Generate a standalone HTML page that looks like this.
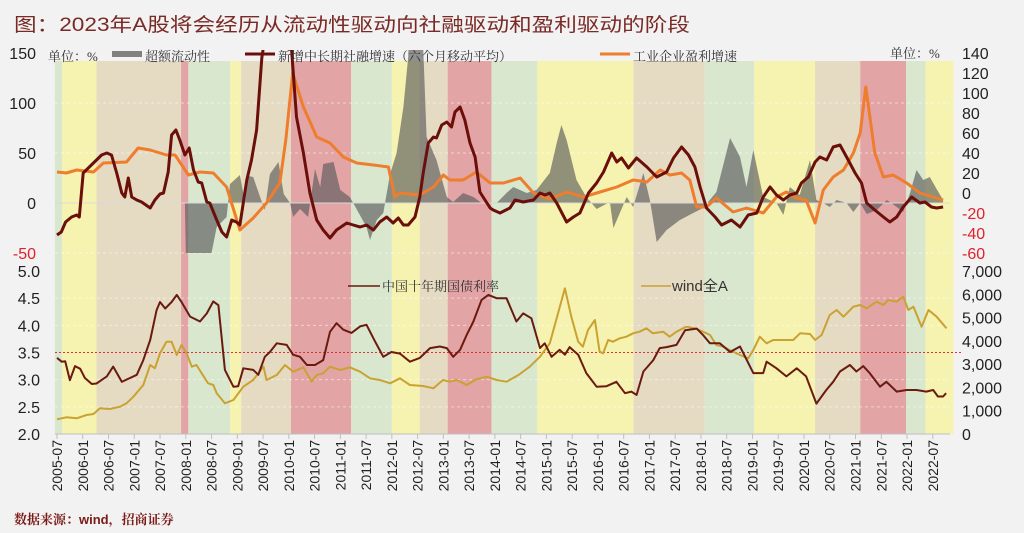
<!DOCTYPE html>
<html><head><meta charset="utf-8">
<style>
html,body{margin:0;padding:0;background:#f2f2f2;}
svg{display:block;font-family:"Liberation Sans","Noto Sans CJK SC",sans-serif;}
</style></head>
<body>
<svg id="chart" width="1024" height="533" viewBox="0 0 1024 533">
<rect width="1024" height="533" fill="#f2f2f2"/>
<text x="14" y="31" font-size="19" fill="#7a2a26" textLength="676" lengthAdjust="spacingAndGlyphs">图：2023年A股将会经历从流动性驱动向社融驱动和盈利驱动的阶段</text>
<g id="bands"></g><g id="grid"></g>
<g id="plot"></g>
<g id="axes"></g>
<g id="legend" font-family="'Liberation Serif','Noto Serif CJK SC',serif" font-size="13" fill="#333">
<text x="48" y="61">单位：%</text>
<rect x="112" y="51" width="30" height="6" fill="#808080"/>
<text x="145" y="61">超额流动性</text>
<line x1="245" y1="54" x2="275" y2="54" stroke="#6b0f0a" stroke-width="3"/>
<text x="278" y="61">新增中长期社融增速（六个月移动平均）</text>
<line x1="600" y1="54" x2="630" y2="54" stroke="#ee7d2e" stroke-width="3"/>
<text x="633" y="61">工业企业盈利增速</text>
<text x="890" y="58">单位：%</text>
<line x1="348" y1="286" x2="380" y2="286" stroke="#6b1a10" stroke-width="1.5"/>
<text x="382" y="291">中国十年期国债利率</text>
<line x1="641" y1="286" x2="671" y2="286" stroke="#c9a232" stroke-width="1.5"/>
<text x="672" y="291" font-family="'Liberation Sans','Noto Sans CJK SC',sans-serif" font-size="15">wind全A</text>
</g>
<text x="14" y="524" font-size="13" font-weight="bold" fill="#7a1a14" font-family="'Liberation Sans','Noto Serif CJK SC',serif">数据来源：wind，招商证券</text>
</svg>
<script>
// ---- data (month index: 0 = 2005-07) ----
const tickLabels=[];for(let y=2005;y<=2022;y++){if(y>2005)tickLabels.push(y+'-01');tickLabels.push(y+'-07');}
const bandStarts=[-0.5,1.2,9.2,28.9,30.6,40.3,42.9,54.5,68.5,78,84.5,91,101.2,111.9,134.3,150.9,162.4,176.6,187.1,197.8,202.3,208.8];
const bandTypes=['g','y','b','r','g','y','b','r','g','y','b','r','g','y','b','g','y','b','r','g','y'];
const creditM=[0,1,2,3.4,4.6,5.2,6.1,7.3,9.2,10.4,11.6,12.7,13.9,15.1,15.8,16.6,17.4,18.6,19.7,21.7,22.8,24,24.8,25.9,26.7,27.7,28.6,29.8,30.8,31.8,32.9,33.7,34.9,35.6,37.2,38.4,39.5,40.7,41.8,42.6,44.2,45.3,46.5,47.7,48.6,51,54,54.7,55.8,57.4,58.9,60.5,62,63.6,65.1,67.5,69,70.6,72.1,73.7,75.2,76.8,78.3,79.5,80.7,81.8,83.4,84.5,85.3,86.5,87.7,88.4,89.6,90.8,91.9,92.7,93.9,95,96.2,97.4,98.5,99.7,100.9,101.6,103.2,105.5,106.7,108.6,111,112.5,113.7,114.8,116.4,118.7,120.3,121.8,123.8,125.7,127.3,129.2,130.4,131.5,133.1,135,137.4,139.7,142,143.6,145.5,147.1,148.6,149.8,151.3,153.3,154.8,157.1,159.1,161,163,164.5,166.1,167.6,169.2,170.7,172.3,173.4,175,176.6,177.7,179.3,180.8,182.4,184.3,185.9,187.4,188.6,190.5,192.5,194,195.6,197.1,199.1,201,202.2,203.7,204.9,206.4];
const creditV=[-32,-29,-19,-14,-12,-14,30,35,43,48,50,48,30,10,6,25,6,3,1,-5,3,9,10,31,68,73,63,48,55,33,21,20,1,0,-17,-29,-34,-17,-19,-22,23,43,73,145,170,200,200,150,86,50,10,-17,-27,-35,-27,-20,-22,-24,-22,-27,-19,-14,-20,-15,-22,-22,-14,6,30,60,66,65,78,81,76,91,96,83,60,46,11,3,-5,-7,-10,-5,3,1,3,10,8,10,0,-19,-14,-10,10,20,31,50,41,45,35,45,36,26,31,45,56,48,36,16,-5,-14,-22,-17,-24,-12,-10,6,16,8,3,8,10,20,26,41,46,43,56,58,43,30,20,0,-7,-14,-19,-14,-4,6,0,1,-4,-5,-4];
const profitM=[0,2.2,4.6,8.5,10.8,16.2,18.9,21.7,25.5,27.5,30.6,33.3,36.4,39.5,42.6,45.7,48.8,51.9,53.3,54.9,57.4,60.5,63.6,66.7,69.8,73.7,77.2,78.7,79.9,84.5,87.7,90,91.5,94.6,97.7,100.9,104,107.9,111,114.8,118.7,122.6,126.5,130.4,134.2,137.4,140.5,142.8,145.5,147.4,149,151.3,153.6,157.5,160.6,164.5,167.6,169.9,172.3,174.5,176.6,178.5,180.8,183.2,185.5,187.1,188.4,190.5,192.5,194.8,197.9,201,204.1,206.4];
const profitV=[31,30,33,31,40,41,55,53,48,48,28,31,30,16,-27,-15,0,20,63,130,96,66,60,46,40,38,36,6,10,8,16,28,23,23,31,20,20,25,10,4,11,6,11,16,23,21,33,28,30,23,-4,-4,5,-9,-5,-10,6,11,5,3,-20,13,26,33,50,70,116,50,26,28,20,10,6,3];
const liqM=[29.8,30,36,37.2,39.5,40.3,42.6,43.8,44.6,45.7,47.3,48.4,49.6,51.6,52.8,54.3,55,56.6,58.5,60.1,61.3,62,64.4,66,68.2,69,72.1,72.9,74.5,76,77.6,79.1,80.7,81.8,82.2,84.9,86.1,88.4,90.8,92.3,94.6,97,98.9,102.4,104.7,106.3,109.4,111.7,114.8,116.4,117.5,118.7,121,123.3,125.7,128.8,129.6,132.7,134.2,136.6,138.1,139.7,142,145.1,148.2,150.5,153.6,156.8,159.1,160.6,162.2,164.5,167.6,169.2,170.7,173,175.4,176.9,178.5,180,181.6,183.9,185.5,187.1,188.6,191,193.3,195.6,197.1,198.7,200.2,201.8,203.3,204.9,206.4];
const liqV=[0,-50,-50,-24,-14,19,28,0,27,26,6,-7,29,41,9,0,-14,-6,-14,34,16,39,41,13,6,0,-24,-37,-17,-10,29,50,96,146,200,200,66,43,6,1,10,6,0,0,10,16,10,13,30,60,78,63,23,6,-6,1,-25,6,-4,30,3,-39,-27,-17,-10,-5,11,65,46,16,53,6,0,-12,16,8,43,3,0,-4,3,0,-9,0,-11,-7,3,-4,-9,10,33,23,26,14,3];
const bondM=[0,1.1,1.9,3,4.2,5.4,6.5,8.1,9.2,11.6,13.1,15.1,17,18.6,20.1,21.7,23.2,24,25.2,26.7,27.9,29,31,33.3,34.9,36.4,37.6,39.1,41.1,42.2,43.4,45.7,46.9,48.4,49.6,51.2,53.5,55,56.6,58.2,60.1,62,63.6,65.1,66.7,68.6,70.6,72.1,74.1,76,77.9,79.9,82.2,84.5,86.9,89.2,90.8,92.3,93.9,95.4,97,98.9,100.5,102.4,104.7,107,108.6,110.5,112.5,113.6,115.2,117.1,118.3,119.4,121.4,123.3,125.7,128,130.3,132.3,133.8,135,136.6,138.9,140.4,142,144.3,146.3,149,150.5,152.1,154.4,156.8,159.1,162.2,164.5,165.3,167.6,169.9,172.3,174.5,176.9,179.2,180.8,182.4,184.7,186.2,187.8,189.3,191.7,193.2,195.6,197.9,200.2,202.5,204.1,205.2,206.4,207.1];
const bondV=[3.40,3.33,3.34,2.99,3.25,3.20,3.03,2.92,2.93,3.06,3.24,2.96,3.03,3.09,3.36,3.73,4.28,4.43,4.31,4.43,4.56,4.43,4.16,4.07,4.22,4.44,4.37,3.18,2.87,2.88,3.21,3.18,3.09,3.42,3.51,3.67,3.64,3.46,3.42,3.27,3.27,3.36,3.88,4.04,3.92,3.86,3.98,4.01,3.70,3.42,3.51,3.48,3.33,3.40,3.58,3.61,3.58,3.42,3.55,3.82,4.07,4.47,4.56,4.50,4.50,4.07,4.22,4.13,3.58,3.67,3.42,3.55,3.46,3.60,3.46,3.12,2.87,2.88,2.96,2.75,2.78,2.72,3.15,3.36,3.58,3.60,3.64,3.91,3.94,3.82,3.67,3.67,3.51,3.61,3.12,3.12,3.33,3.21,3.06,3.21,3.06,2.56,2.81,2.96,3.15,3.27,3.15,3.25,3.12,2.87,2.96,2.78,2.81,2.81,2.78,2.81,2.69,2.69,2.75];
const windM=[0,2.2,4.6,6.9,8.5,10,12.3,14.7,16.2,17.8,20.1,21.7,22.8,24,25.5,26.7,27.9,29,30.2,31.4,32.5,33.7,35.2,36.4,37.2,39.1,41.1,43.4,45.7,48.1,48.8,51.2,53.1,55,57.4,59.3,60.5,62,63.6,66,68.2,70.6,72.9,75.2,77.6,79.9,82.2,85.3,87.7,89.9,91.5,93.1,95.4,97.7,100.1,102.4,104.7,107.5,110.1,112.5,114.8,116.7,118.3,119.8,121.4,122.5,123.7,125.3,126.4,127.2,128.4,129.5,131.1,132.6,134.2,135.7,137.3,138.8,141.2,142.7,144.3,146.6,148.6,150.5,152.1,153.6,155.2,156.7,159.1,161,162.2,163.7,165.3,166.8,169.2,171.5,173.1,175.4,176.6,178.1,180,181.6,183.2,185.5,187.1,188.6,190.9,192.5,193.6,195.6,197.1,198.3,199.5,201.4,203,204.9,207.2];
const windV=[631,717,674,816,859,1102,1074,1174,1317,1603,2104,2963,2820,3464,3965,3965,3392,3822,3464,2892,2963,2605,2176,2104,1746,1317,1460,2033,2319,2892,2319,2533,2963,2677,2863,2248,2533,2605,2892,2748,2863,2677,2390,2319,2176,2390,2104,2061,1961,2319,2248,2319,2104,2347,2462,2319,2248,2533,2892,3320,3893,5181,6255,5038,3965,3750,4466,4896,3535,3464,4037,3965,4108,4180,4323,4395,4538,4323,4395,4180,4395,4610,4538,4395,4251,3822,3750,3607,3392,3249,3607,4180,3893,4037,4037,4037,4323,4295,4037,4251,5110,5325,5038,5467,5539,5396,5682,5539,5754,5682,5897,5325,5467,4610,5325,5038,4538];
const leftTopTicks=[150,100,50,0,-50];
const rightTopTicks=[140,120,100,80,60,40,20,0,-20,-40,-60];
const leftBotTicks=[5.0,4.5,4.0,3.5,3.0,2.5,2.0];
const rightBotTicks=[7000,6000,5000,4000,3000,2000,1000,0];
const bondRef=3.5;

// ---- scales ----
const X0=57,MPX=4.293;
const xS=m=>X0+m*MPX;
const yTopL=v=>203-v;          // left top axis
const yTopR=v=>193-v;          // right top axis
const yBotL=v=>271+(5-v)*54.33;
const yBotR=v=>434-v*163/7000;
const NS='http://www.w3.org/2000/svg';
function mk(tag,attrs,parent){const e=document.createElementNS(NS,tag);for(const k in attrs)e.setAttribute(k,attrs[k]);parent.appendChild(e);return e;}
const svg=document.getElementById('chart');
const defs=mk('defs',{},svg);
const cp=mk('clipPath',{id:'topclip'},defs);mk('rect',{x:50,y:50,width:910,height:215},cp);
const bandG=document.getElementById('bands'),gridG=document.getElementById('grid'),plotG=document.getElementById('plot'),axG=document.getElementById('axes');
const bandColors={g:'#d8e7cd',y:'#f6f3b0',b:'#e5dbc2',r:'#e3a4a6'};
for(let i=0;i<bandTypes.length;i++){
  const x1=xS(bandStarts[i]),x2=xS(bandStarts[i+1]);
  const r=mk('rect',{x:x1,y:61,width:x2-x1,height:373,fill:bandColors[bandTypes[i]]},bandG);
  
  
}
// grids
[100,50,-50].forEach(v=>{const l=mk('line',{x1:55,x2:950,y1:yTopL(v),y2:yTopL(v),stroke:'#ffffff','stroke-opacity':0.5,'stroke-dasharray':'3,3'},gridG);});
[4.5,4.0,3.0,2.5].forEach(v=>{const l=mk('line',{x1:55,x2:950,y1:yBotL(v),y2:yBotL(v),stroke:'#ffffff','stroke-opacity':0.5,'stroke-dasharray':'3,3'},gridG);});
// liquidity area
let d='M'+xS(liqM[0])+','+yTopL(0);
liqM.forEach((m,i)=>d+=' L'+xS(m).toFixed(1)+','+yTopL(liqV[i]).toFixed(1));
d+=' L'+xS(liqM[liqM.length-1])+','+yTopL(0)+' Z';
const area=mk('path',{d:d,fill:'#5a5a5a','fill-opacity':0.65,'clip-path':'url(#topclip)'},plotG);


const zl=mk('line',{x1:55,x2:950,y1:yTopL(0),y2:yTopL(0),stroke:'#d9d9d9','stroke-width':1},plotG);


function line(ms,vs,ys,color,w,name,clip){
  let p='';ms.forEach((m,i)=>p+=(i?' L':'M')+xS(m).toFixed(1)+','+ys(vs[i]).toFixed(1));
  const a={d:p,fill:'none',stroke:color,'stroke-width':w,'stroke-linejoin':'round'};if(clip)a['clip-path']='url(#topclip)';
  const e=mk('path',a,plotG);
  
  
}
line(profitM,profitV,yTopL,'#ee7d2e',3,'profit-growth-line',true);
line(creditM,creditV,yTopL,'#6b0f0a',3,'credit-growth-line',true);
const ref=mk('line',{x1:55,x2:963,y1:yBotL(bondRef),y2:yBotL(bondRef),stroke:'#e0313a','stroke-width':1,'stroke-dasharray':'2,2'},plotG);


line(windM,windV,yBotR,'#c9a232',2,'wind-all-a-line',false);
line(bondM,bondV,yBotL,'#6b1a10',2,'bond-yield-line',false);
// axes labels
function txt(x,y,s,anchor,color,name,extra){const t=mk('text',Object.assign({x:x,y:y,'text-anchor':anchor,fill:color,'font-size':16},extra||{}),axG);t.textContent=s;return t;}
leftTopTicks.forEach(v=>txt(36,yTopL(v)+6,String(v),'end',v<0?'#e0202a':'#222','left-top-tick'));
rightTopTicks.forEach(v=>txt(962,yTopR(v)+6,String(v),'start',v<0?'#e0202a':'#222','right-top-tick'));
leftBotTicks.forEach(v=>txt(40,yBotL(v)+6,v.toFixed(1),'end','#222','left-bottom-tick'));
rightBotTicks.forEach(v=>txt(962,yBotR(v)+6,v.toLocaleString('en-US'),'start','#222','right-bottom-tick'));
const ax=mk('line',{x1:55,x2:950,y1:434,y2:434,stroke:'#bfbfbf'},axG);


tickLabels.forEach((s,i)=>{
  const x=xS(i*6);
  const tk=mk('line',{x1:x,x2:x,y1:434,y2:439,stroke:'#bfbfbf'},axG);
  
  
  txt(0,0,s,'end','#222','x-tick-label',{transform:'translate('+(x+5)+',440) rotate(-90)','font-size':14});
});
</script>
</body></html>
